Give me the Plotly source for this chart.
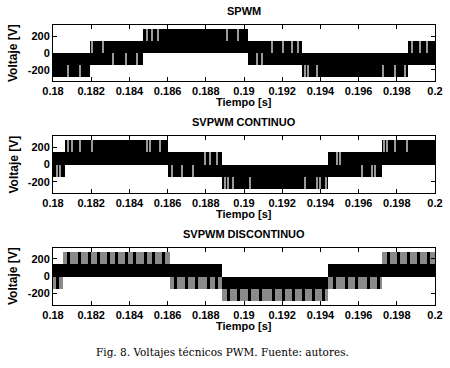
import plotly.graph_objects as go
from plotly.subplots import make_subplots

# ---------------- data ----------------
panel_titles = ["SPWM", "SVPWM CONTINUO", "SVPWM DISCONTINUO"]
x_tick_vals = [0.18, 0.182, 0.184, 0.186, 0.188, 0.19, 0.192, 0.194, 0.196, 0.198, 0.2]
x_tick_text = ["0.18", "0.182", "0.184", "0.186", "0.188", "0.19", "0.192", "0.194", "0.196", "0.198", "0.2"]
y_tick_vals = [-200, 0, 200]
y_tick_text = ["-200", "0", "200"]
x_label = "Tiempo [s]"
y_label = "Voltaje [V]"
caption = "Fig. 8. Voltajes técnicos PWM. Fuente: autores."

# SPWM: sections of the switched phase voltage (time bounds, lower / upper level)
spwm_start = [0.1800, 0.18194, 0.18473, 0.19022, 0.19302, 0.19860]
spwm_end = [0.18194, 0.18473, 0.19022, 0.19302, 0.19860, 0.2000]
spwm_low = [-280, -140, 0, -140, -280, -140]
spwm_high = [0, 140, 280, 140, 0, 140]
spwm_notch_t = [0.18080, 0.18141, 0.18207, 0.18263, 0.18316, 0.18382, 0.18441,
                0.18491, 0.18517, 0.18551, 0.18909, 0.18970,
                0.19066, 0.19093, 0.19145, 0.19206, 0.19250, 0.19284,
                0.19319, 0.19337, 0.19381, 0.19729, 0.19790, 0.19843,
                0.19878, 0.19921, 0.19956]
spwm_notch_low = [-280, -280, 0, 0, -140, -140, -140,
                  140, 140, 140, 140, 140,
                  -140, -140, 0, 0, 0, 0,
                  -280, -280, -280, -280, -280, -280,
                  0, 0, 0]
spwm_notch_high = [-140, -140, 140, 140, 0, 0, 0,
                   280, 280, 280, 280, 280,
                   0, 0, 140, 140, 140, 140,
                   -140, -140, -140, -140, -140, -140,
                   140, 140, 140]

# SVPWM continuo
svc_start = [0.1800, 0.18063, 0.18604, 0.18883, 0.19441, 0.19720]
svc_end = [0.18063, 0.18604, 0.18883, 0.19441, 0.19720, 0.2000]
svc_low = [-140, 0, -140, -280, -140, 0]
svc_high = [140, 280, 140, 0, 140, 280]
svc_notch_t = [0.18019, 0.18037,
               0.18080, 0.18098, 0.18141, 0.18203, 0.18491, 0.18508, 0.18560,
               0.18621, 0.18674, 0.18735, 0.18796, 0.18822, 0.18857,
               0.18901, 0.18918, 0.18944, 0.19031, 0.19319, 0.19381, 0.19398, 0.19429,
               0.19485, 0.19503, 0.19616, 0.19669, 0.19686,
               0.19733, 0.19747, 0.19791, 0.19852]
svc_notch_low = [-140, -140,
                 140, 140, 140, 140, 140, 140, 140,
                 -140, -140, -140, 0, 0, 0,
                 -280, -280, -280, -280, -280, -280, -280, -280,
                 0, 0, -140, -140, -140,
                 140, 140, 140, 140]
svc_notch_high = [0, 0,
                  280, 280, 280, 280, 280, 280, 280,
                  0, 0, 0, 140, 140, 140,
                  -140, -140, -140, -140, -140, -140, -140, -140,
                  140, 140, 0, 0, 0,
                  280, 280, 280, 280]

# SVPWM discontinuo
svd_start = [0.1800, 0.18054, 0.18613, 0.18883, 0.19441, 0.19720]
svd_end = [0.18054, 0.18613, 0.18883, 0.19441, 0.19720, 0.2000]
svd_low = [-140, 0, -140, -280, -140, 0]
svd_high = [140, 280, 140, 0, 140, 280]
# half of each section that is rendered grey (dense switching)
svd_grey_low = [-140, 140, -140, -280, -140, 140]
svd_grey_high = [0, 280, 0, -140, 0, 280]
# dark pulses inside the grey halves
svd_pulse_t = [0.18025,
               0.18080, 0.18141, 0.18190, 0.18237, 0.18290, 0.18333, 0.18386, 0.18429, 0.18482, 0.18525, 0.18577,
               0.18639, 0.18700, 0.18752, 0.18813, 0.18857,
               0.18918, 0.18970, 0.19031, 0.19084, 0.19153, 0.19206, 0.19258, 0.19311, 0.19363, 0.19415,
               0.19476, 0.19538, 0.19590, 0.19651, 0.19703,
               0.19755, 0.19808, 0.19860, 0.19913, 0.19965]
svd_pulse_sec = [0,
                 1, 1, 1, 1, 1, 1, 1, 1, 1, 1, 1,
                 2, 2, 2, 2, 2,
                 3, 3, 3, 3, 3, 3, 3, 3, 3, 3,
                 4, 4, 4, 4, 4,
                 5, 5, 5, 5, 5]

# ---------------- figure ----------------
fig = make_subplots(rows=3, cols=1)

BLACK = "#000000"
NOTCH = "#9a9a9a"
GREY = "#8a8a8a"
NOTCH_W = 0.00006
PULSE_W = 0.00016


def band_trace(start, end, low, high, color):
    return go.Bar(
        x=[(s + e) / 2 for s, e in zip(start, end)],
        y=[h - l for l, h in zip(low, high)],
        base=low,
        width=[e - s for s, e in zip(start, end)],
        marker=dict(color=color, line=dict(width=0)),
        showlegend=False, hoverinfo="skip",
    )


def line_trace(t, low, high, w, color):
    return go.Bar(
        x=t, y=[h - l for l, h in zip(low, high)], base=low,
        width=[w] * len(t),
        marker=dict(color=color, line=dict(width=0)),
        showlegend=False, hoverinfo="skip",
    )


# SPWM
fig.add_trace(band_trace(spwm_start, spwm_end, spwm_low, spwm_high, BLACK), row=1, col=1)
fig.add_trace(line_trace(spwm_notch_t, spwm_notch_low, spwm_notch_high, NOTCH_W, NOTCH), row=1, col=1)
# SVPWM continuo
fig.add_trace(band_trace(svc_start, svc_end, svc_low, svc_high, BLACK), row=2, col=1)
fig.add_trace(line_trace(svc_notch_t, svc_notch_low, svc_notch_high, NOTCH_W, NOTCH), row=2, col=1)
# SVPWM discontinuo
fig.add_trace(band_trace(svd_start, svd_end, svd_low, svd_high, BLACK), row=3, col=1)
fig.add_trace(band_trace(svd_start, svd_end, svd_grey_low, svd_grey_high, GREY), row=3, col=1)
fig.add_trace(line_trace(svd_pulse_t,
                         [svd_grey_low[i] for i in svd_pulse_sec],
                         [svd_grey_high[i] for i in svd_pulse_sec],
                         PULSE_W, BLACK), row=3, col=1)

W, H = 450, 368
x0, x1 = 53, 435
panels_px = [(25, 81), (136, 193), (247.5, 304.5)]

tick_font = dict(family="Liberation Sans, Arial, sans-serif", size=11, color="black", weight="bold")

layout = dict(
    width=W, height=H,
    margin=dict(l=0, r=0, t=0, b=0, autoexpand=False),
    paper_bgcolor="white", plot_bgcolor="white",
    barmode="overlay", bargap=0,
    showlegend=False,
)
for i, (top, bot) in enumerate(panels_px):
    sfx = "" if i == 0 else str(i + 1)
    layout["xaxis" + sfx] = dict(
        domain=[x0 / W, x1 / W], range=[0.18, 0.2], automargin=False,
        tickvals=x_tick_vals, ticktext=x_tick_text,
        ticks="inside", ticklen=4, tickwidth=1, tickcolor="black",
        showline=True, linecolor="black", linewidth=1, mirror="ticks",
        showgrid=False, zeroline=False, tickfont=tick_font,
    )
    layout["yaxis" + sfx] = dict(
        domain=[1 - bot / H, 1 - top / H], range=[-330, 330], automargin=False,
        tickvals=y_tick_vals, ticktext=y_tick_text,
        ticks="inside", ticklen=4, tickwidth=1, tickcolor="black",
        showline=True, linecolor="black", linewidth=1, mirror="ticks",
        showgrid=False, zeroline=False, tickfont=tick_font,
    )
fig.update_layout(**layout)

ann = []
title_font = dict(family="Liberation Sans, Arial, sans-serif", size=11, color="black", weight="bold")
ylab_font = dict(family="Liberation Sans, Arial, sans-serif", size=12, color="black", weight="bold")
xc = (x0 + x1) / 2 / W
for i, (top, bot) in enumerate(panels_px):
    ann.append(dict(text=panel_titles[i], x=xc, y=1 - (top - 14) / H, xref="paper", yref="paper",
                    xanchor="center", yanchor="middle", showarrow=False, font=title_font))
    ann.append(dict(text=x_label, x=xc, y=1 - (bot + 21) / H, xref="paper", yref="paper",
                    xanchor="center", yanchor="middle", showarrow=False, font=title_font))
    ann.append(dict(text=y_label, x=13 / W, y=1 - (top + bot) / 2 / H, xref="paper", yref="paper",
                    xanchor="center", yanchor="middle", textangle=-90, showarrow=False, font=ylab_font))
ann.append(dict(text=caption, x=222 / W, y=1 - 352 / H, xref="paper", yref="paper",
                xanchor="center", yanchor="middle", showarrow=False,
                font=dict(family="DejaVu Serif, serif", size=10.5, color="black")))
fig.update_layout(annotations=ann)

# remove the browser's default 8 px page margin so the figure fills the window
fig.write_html("out.html", config={"displayModeBar": False},
               post_script="document.body.style.margin='0px';")
